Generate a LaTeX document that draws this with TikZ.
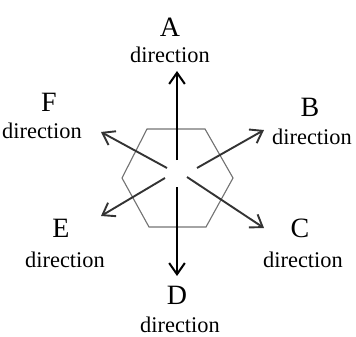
\documentclass[tikz,border=0pt]{standalone}
\usepackage{fontspec}
\setmainfont{Liberation Serif}
\usetikzlibrary{arrows.meta,positioning}
\tikzset{
  letter/.style={font=\fontsize{12.5}{13}\selectfont,inner sep=0pt},
  dirtext/.style={font=\fontsize{10}{11}\selectfont,inner sep=0pt},
  axisarrow/.style={-{Straight Barb[length=5pt,width=7pt]},line width=0.9pt},
  diagarrow/.style={-{Straight Barb[length=5pt,width=7pt]},line width=0.85pt,black!80},
  hexline/.style={draw=black!55,line width=0.5pt}
}

\begin{document}
\begin{tikzpicture}[x=0.0157cm,y=-0.0157cm]
\useasboundingbox (0,0) rectangle (356,336);

% hexagon
\draw[hexline] (147,129) -- (205,129) -- (233,178) -- (206,227)
  -- (149,227) -- (122,178) -- cycle;

% start and end points of the arrows
\coordinate (sA) at (177,160);  \coordinate (tA) at (177,71);
\coordinate (sD) at (177,187);  \coordinate (tD) at (177,276);
\coordinate (sF) at (167,168);  \coordinate (tF) at (101,132);
\coordinate (sB) at (197,168);  \coordinate (tB) at (264,130);
\coordinate (sE) at (165,178);  \coordinate (tE) at (101,216);
\coordinate (sC) at (187,177);  \coordinate (tC) at (264,228);

\draw[axisarrow] (sA) -- (tA);
\draw[axisarrow] (sD) -- (tD);
\draw[diagarrow] (sF) -- (tF);
\draw[diagarrow] (sB) -- (tB);
\draw[diagarrow] (sE) -- (tE);
\draw[diagarrow] (sC) -- (tC);

% labels
\node[letter] (lA) at (170,27) {A};
\node[dirtext] (dA) at (170,55) {direction};
\node[letter] (lF) at (49,102) {F};
\node[dirtext] (dF) at (42,131) {direction};
\node[letter] (lB) at (310,107) {B};
\node[dirtext] (dB) at (312,137) {direction};
\node[letter] (lE) at (61,228) {E};
\node[dirtext] (dE) at (65,260) {direction};
\node[letter] (lC) at (300,228) {C};
\node[dirtext] (dC) at (303,260) {direction};
\node[letter] (lD) at (177,295) {D};
\node[dirtext] (dD) at (180,325) {direction};
\end{tikzpicture}
\end{document}
